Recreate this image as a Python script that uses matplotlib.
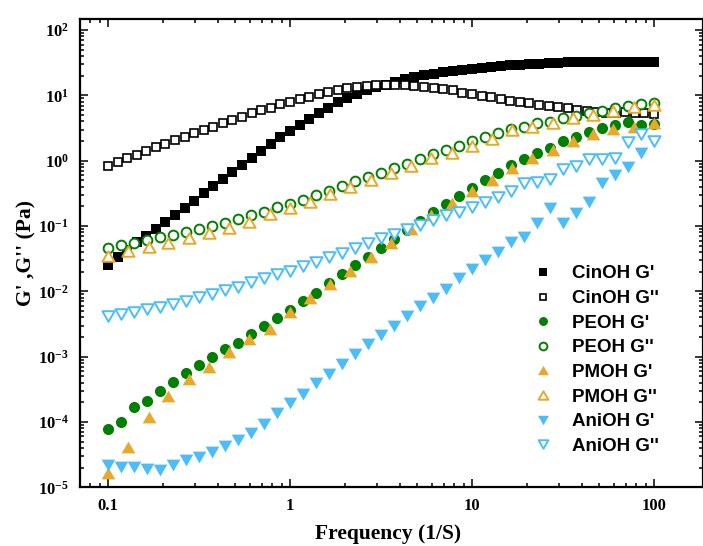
import math
import matplotlib
matplotlib.use('Agg')
import matplotlib.pyplot as plt
from matplotlib.path import Path
from matplotlib.ticker import LogLocator, FixedLocator, FuncFormatter, NullFormatter

plt.rcParams['mathtext.fontset'] = 'custom'
plt.rcParams['mathtext.bf'] = 'Liberation Serif:bold'
plt.rcParams['mathtext.rm'] = 'Liberation Serif:bold'

# frequency grids (1/s), three decades each
freq_cin = [0.1, 0.113, 0.127, 0.144, 0.162, 0.183, 0.207, 0.234, 0.264, 0.298,
            0.336, 0.379, 0.428, 0.483, 0.545, 0.616, 0.695, 0.784, 0.885,
            1.0, 1.13, 1.27, 1.44, 1.62, 1.83, 2.07, 2.34, 2.64, 2.98,
            3.36, 3.79, 4.28, 4.83, 5.45, 6.16, 6.95, 7.84, 8.85,
            10.0, 11.3, 12.7, 14.4, 16.2, 18.3, 20.7, 23.4, 26.4, 29.8,
            33.6, 37.9, 42.8, 48.3, 54.5, 61.6, 69.5, 78.4, 88.5, 100.0]
freq_pe = [0.1, 0.118, 0.139, 0.164, 0.193, 0.228, 0.268, 0.316, 0.373, 0.439, 0.518, 0.611, 0.720, 0.848,
           1.0, 1.18, 1.39, 1.64, 1.93, 2.28, 2.68, 3.16, 3.73, 4.39, 5.18, 6.11, 7.20, 8.48,
           10.0, 11.8, 13.9, 16.4, 19.3, 22.8, 26.8, 31.6, 37.3, 43.9, 51.8, 61.1, 72.0, 84.8, 100.0]
freq_pm = [0.1, 0.129, 0.167, 0.215, 0.278, 0.359, 0.464, 0.599, 0.774,
           1.0, 1.29, 1.67, 2.15, 2.78, 3.59, 4.64, 5.99, 7.74,
           10.0, 12.9, 16.7, 21.5, 27.8, 35.9, 46.4, 59.9, 77.4, 100.0]
# AniOH G' has no visible point at 100
freq_ani_g1 = [0.1, 0.118, 0.139, 0.164, 0.193, 0.228, 0.268, 0.316, 0.373, 0.439, 0.518, 0.611, 0.720, 0.848,
               1.0, 1.18, 1.39, 1.64, 1.93, 2.28, 2.68, 3.16, 3.73, 4.39, 5.18, 6.11, 7.20, 8.48,
               10.0, 11.8, 13.9, 16.4, 19.3, 22.8, 26.8, 31.6, 37.3, 43.9, 51.8, 61.1, 72.0, 84.8]
freq_ani_g2 = freq_pe

x_ticks = [0.1, 1, 10, 100]
y_ticks = [1e-5, 1e-4, 1e-3, 1e-2, 1e-1, 1, 10, 100]

# moduli (Pa)
cin_g1 = [0.0254, 0.0336, 0.0437, 0.0562, 0.0708, 0.0891, 0.115, 0.148, 0.191, 0.244,
          0.316, 0.407, 0.531, 0.681, 0.863, 1.12, 1.42, 1.78, 2.30, 2.88,
          3.55, 4.4, 5.4, 6.5, 7.8, 9.2, 10.5, 11.9, 13.3, 14.7,
          16.1, 17.6, 18.9, 20.2, 21.3, 22.5, 23.7, 24.7, 25.7, 26.7,
          27.6, 28.3, 29.0, 29.6, 30.2, 30.7, 31.2, 31.6, 32.0, 32.3,
          32.6, 32.8, 32.9, 32.9, 32.8, 32.6, 32.3, 32.0]
cin_g2 = [0.83, 0.97, 1.09, 1.23, 1.43, 1.61, 1.81, 2.08, 2.34, 2.64,
          2.96, 3.33, 3.75, 4.22, 4.73, 5.34, 6.0, 6.5, 7.3, 7.9,
          8.7, 9.6, 10.6, 11.4, 12.1, 12.9, 13.6, 14.0, 14.3, 14.6,
          14.6, 14.5, 14.1, 13.6, 12.9, 12.4, 11.9, 11.0, 10.5, 9.9,
          9.4, 8.8, 8.3, 8.0, 7.6, 7.2, 6.9, 6.6, 6.4, 6.0,
          5.7, 5.6, 5.4, 5.4, 5.5, 5.3, 5.3, 5.2]
pe_g1 = [7.7e-5, 1.01e-4, 1.68e-4, 2.12e-4, 3.0e-4, 4.1e-4, 5.6e-4, 7.5e-4, 9.8e-4, 1.3e-3,
         1.64e-3, 2.2e-3, 2.9e-3, 3.9e-3, 5.2e-3, 7.1e-3, 9.5e-3, 0.0133, 0.0183, 0.0254,
         0.034, 0.0457, 0.063, 0.087, 0.121, 0.166, 0.218, 0.289, 0.379, 0.508,
         0.657, 0.86, 1.07, 1.3, 1.55, 2.03, 2.34, 2.79, 3.15, 3.53,
         3.97, 3.53, 3.6]
pe_g2 = [0.0457, 0.0514, 0.0546, 0.0612, 0.0689, 0.073, 0.082, 0.089, 0.100, 0.113,
         0.127, 0.148, 0.166, 0.194, 0.218, 0.251, 0.299, 0.348, 0.411, 0.49,
         0.565, 0.657, 0.776, 0.893, 1.08, 1.25, 1.44, 1.69, 2.03, 2.29,
         2.64, 3.04, 3.26, 3.75, 3.97, 4.48, 4.86, 5.46, 5.86, 6.37,
         6.9, 7.4, 7.6]
pm_g1 = [1.64e-5, 4.2e-5, 1.2e-4, 2.5e-4, 4.5e-4, 7.0e-4, 1.19e-3, 1.85e-3, 2.63e-3, 4.8e-3,
         7.8e-3, 0.013, 0.0207, 0.034, 0.055, 0.089, 0.148, 0.223, 0.348, 0.51,
         0.77, 1.09, 1.46, 2.03, 2.55, 3.04, 3.26, 3.75]
pm_g2 = [0.0348, 0.042, 0.0473, 0.0557, 0.065, 0.079, 0.092, 0.117, 0.153, 0.187,
         0.236, 0.31, 0.393, 0.508, 0.644, 0.832, 1.09, 1.33, 1.69, 2.13,
         2.96, 3.26, 3.75, 4.48, 5.03, 5.85, 6.59, 7.14]
ani_g1 = [2.2e-5, 2.05e-5, 2.05e-5, 1.9e-5, 1.84e-5, 2.2e-5, 2.63e-5, 2.9e-5, 3.5e-5, 4.3e-5,
          5.3e-5, 6.9e-5, 9.3e-5, 1.35e-4, 1.92e-4, 2.73e-4, 4.0e-4, 5.4e-4, 7.8e-4, 1.1e-3,
          1.55e-3, 2.15e-3, 3.0e-3, 4.2e-3, 6.0e-3, 7.9e-3, 0.011, 0.016, 0.022, 0.030,
          0.040, 0.057, 0.068, 0.11, 0.19, 0.11, 0.16, 0.23, 0.46, 0.61,
          0.81, 1.32]
ani_g2 = [4.2e-3, 4.5e-3, 4.9e-3, 5.4e-3, 5.8e-3, 6.4e-3, 7.2e-3, 8.2e-3, 9.1e-3, 0.0105,
          0.0118, 0.0139, 0.016, 0.0185, 0.0207, 0.0245, 0.0285, 0.0336, 0.039, 0.046,
          0.055, 0.066, 0.076, 0.090, 0.104, 0.124, 0.148, 0.166, 0.198, 0.236,
          0.28, 0.35, 0.45, 0.48, 0.52, 0.74, 0.83, 1.05, 1.05, 1.12,
          1.96, 2.6, 2.0]

GREEN = '#008000'
ORANGE = '#E8A82C'
BLUE = '#4CBDF8'

TRI_UP = Path([(-1, -0.866), (1, -0.866), (0, 0.866), (0, 0)], closed=True)
TRI_DOWN = Path([(-1, 0.866), (1, 0.866), (0, -0.866), (0, 0)], closed=True)


def draw_series(ax):
    ax.plot(freq_cin, cin_g1, ls='none', marker='s', ms=7.4, color='black', mew=0, label="CinOH G'")
    ax.plot(freq_cin, cin_g2, ls='none', marker='s', ms=5.6, mfc='white', mec='black', mew=1.2, label="CinOH G''")
    ax.plot(freq_pe, pe_g1, ls='none', marker='o', ms=8.0, color=GREEN, mew=0, label="PEOH G'")
    ax.plot(freq_pe, pe_g2, ls='none', marker='o', ms=7.0, mfc='white', mec=GREEN, mew=1.4, label="PEOH G''")
    ax.plot(freq_pm, pm_g1, ls='none', marker=TRI_UP, ms=9.8, color=ORANGE, mew=0, label="PMOH G'")
    ax.plot(freq_pm, pm_g2, ls='none', marker=TRI_UP, ms=8.8, mfc='white', mec=ORANGE, mew=1.4, label="PMOH G''")
    ax.plot(freq_ani_g1, ani_g1, ls='none', marker=TRI_DOWN, ms=9.8, color=BLUE, mew=0, label="AniOH G'")
    ax.plot(freq_ani_g2, ani_g2, ls='none', marker=TRI_DOWN, ms=8.8, mfc='white', mec=BLUE, mew=1.4, label="AniOH G''")


def style_axes(ax):
    ax.set_xscale('log')
    ax.set_yscale('log')
    ax.set_xlim(0.0702, 186)
    ax.set_ylim(1e-5, 148)

    ax.xaxis.set_major_locator(FixedLocator(x_ticks))
    ax.yaxis.set_major_locator(FixedLocator(y_ticks))
    ax.xaxis.set_minor_locator(LogLocator(base=10, subs=range(2, 10), numticks=20))
    ax.yaxis.set_minor_locator(LogLocator(base=10, subs=range(2, 10), numticks=20))
    ax.xaxis.set_minor_formatter(NullFormatter())
    ax.yaxis.set_minor_formatter(NullFormatter())
    ax.xaxis.set_major_formatter(FuncFormatter(lambda v, p: '%g' % v))
    ax.yaxis.set_major_formatter(FuncFormatter(lambda v, p: r'$\mathbf{10^{%d}}$' % round(math.log10(v))))

    ax.tick_params(which='both', direction='in', top=True, right=True, width=1.1)
    ax.tick_params(which='major', length=6)
    ax.tick_params(which='minor', length=3.2)
    ax.tick_params(axis='x', which='major', pad=8, labelsize=12)
    ax.tick_params(axis='y', which='major', pad=8, labelsize=12)
    for lab in ax.get_xticklabels():
        lab.set_fontfamily('Liberation Serif')
        lab.set_fontweight('bold')
    for sp in ax.spines.values():
        sp.set_linewidth(1.6)

    ax.set_xlabel('Frequency (1/S)', fontsize=15.5, fontweight='bold', family='Liberation Serif')
    ax.set_ylabel("G' ,G'' (Pa)", fontsize=15.5, fontweight='bold', family='Liberation Serif')
    ax.xaxis.set_label_coords(0.494, -0.078)
    ax.yaxis.set_label_coords(-0.07, 0.5)


def main():
    fig = plt.figure(figsize=(7.03, 5.46), dpi=100)
    ax = fig.add_axes([0.1138, 0.1075, 0.8862, 0.8577])
    draw_series(ax)
    style_axes(ax)
    ax.legend(loc='upper left', bbox_to_anchor=(0.728, 0.474), frameon=False,
              borderaxespad=0, borderpad=0, handlelength=1.0, handletextpad=1.05,
              labelspacing=0.40, markerscale=0.8,
              prop={'family': 'Liberation Sans', 'weight': 'bold', 'size': 13.5})
    fig.savefig('out.png', dpi=100)


if __name__ == "__main__":
    main()
